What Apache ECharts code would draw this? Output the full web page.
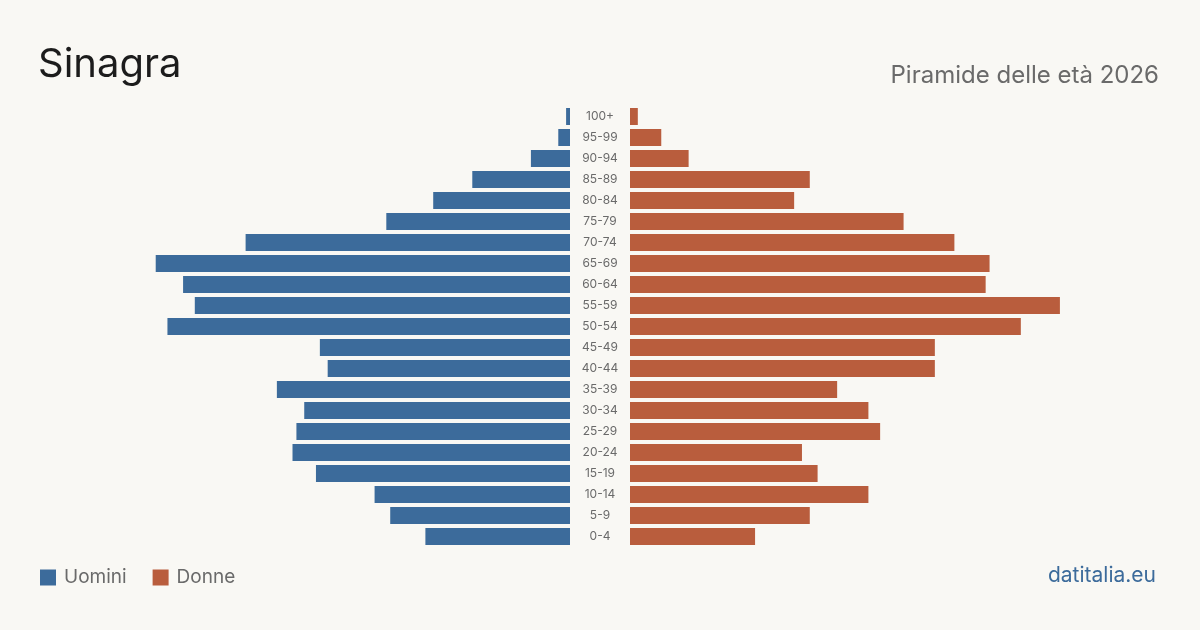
<!DOCTYPE html>
<html lang="it">
<head>
    <meta charset="UTF-8">
    <title>Sinagra - Piramide delle età 2026</title>
    <script src="https://cdn.jsdelivr.net/npm/echarts@6/dist/echarts.min.js"></script>
    <style>
        html, body {
            margin: 0;
            height: 100%;
            background: #f9f8f4;
        }
        #main {
            width: 1200px;
            height: 630px;
        }
    </style>
</head>
<body>
<div id="main"></div>
<script>
    // fasce d'età, dal basso verso l'alto
    var fasce = ['0-4', '5-9', '10-14', '15-19', '20-24', '25-29', '30-34', '35-39', '40-44', '45-49',
        '50-54', '55-59', '60-64', '65-69', '70-74', '75-79', '80-84', '85-89', '90-94', '95-99', '100+'];
    var uomini = [37, 46, 50, 65, 71, 70, 68, 75, 62, 64, 103, 96, 99, 106, 83, 47, 35, 25, 10, 3, 1];
    var donne = [32, 46, 61, 48, 44, 64, 61, 53, 78, 78, 100, 110, 91, 92, 83, 70, 42, 46, 15, 8, 2];
    var maxAsse = 120;

    var font = 'Inter, "Noto Sans", sans-serif';
    var chart = echarts.init(document.getElementById('main'));

    var option = {
        backgroundColor: '#f9f8f4',
        animation: false,
        textStyle: { fontFamily: font },
        title: [{
            text: 'Sinagra',
            left: 38,
            top: 45,
            padding: 0,
            textStyle: { fontFamily: font, fontSize: 40, fontWeight: 'normal', color: '#1c1c1c' }
        }, {
            text: 'Piramide delle età 2026',
            right: 41,
            top: 64,
            padding: 0,
            textStyle: { fontFamily: font, fontSize: 24, fontWeight: 'normal', color: '#6a6a6a' }
        }, {
            text: 'datitalia.eu',
            right: 44,
            top: 565,
            padding: 0,
            textStyle: { fontFamily: font, fontSize: 21, fontWeight: 'normal', color: '#3c6b9b' }
        }],
        legend: {
            left: 40,
            top: 568,
            padding: 0,
            icon: 'rect',
            itemWidth: 16,
            itemHeight: 16,
            itemGap: 26,
            textStyle: { fontFamily: font, fontSize: 19, color: '#6a6a6a', padding: [0, 0, 0, 3] },
            data: ['Uomini', 'Donne']
        },
        grid: [
            { left: 101, right: 630, top: 106, height: 441 },
            { left: 630, right: 101, top: 106, height: 441 }
        ],
        xAxis: [
            { gridIndex: 0, type: 'value', min: 0, max: maxAsse, inverse: true, show: false },
            { gridIndex: 1, type: 'value', min: 0, max: maxAsse, show: false }
        ],
        yAxis: [
            {
                gridIndex: 0, type: 'category', data: fasce,
                axisLine: { show: false }, axisTick: { show: false }, axisLabel: { show: false }
            },
            {
                gridIndex: 1, type: 'category', data: fasce,
                axisLine: { show: false }, axisTick: { show: false },
                axisLabel: { margin: 30, align: 'center', fontSize: 12, color: '#6a6a6a', fontFamily: font }
            }
        ],
        series: [
            {
                name: 'Uomini', type: 'bar', xAxisIndex: 0, yAxisIndex: 0,
                data: uomini, barWidth: 17, itemStyle: { color: '#3c6b9b' }
            },
            {
                name: 'Donne', type: 'bar', xAxisIndex: 1, yAxisIndex: 1,
                data: donne, barWidth: 17, itemStyle: { color: '#b95d3d' }
            }
        ]
    };

    chart.setOption(option);
</script>
</body>
</html>
